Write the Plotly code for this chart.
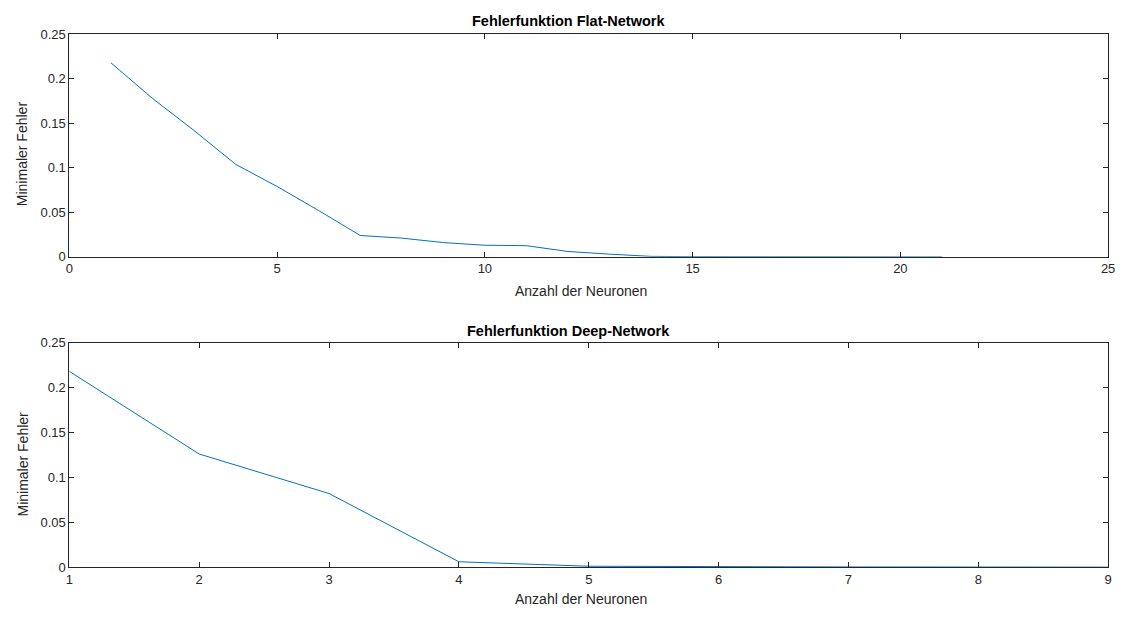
import plotly.graph_objects as go

flat_x = list(range(1, 22))
flat_y = [0.218, 0.178, 0.142, 0.104, 0.079, 0.052, 0.024, 0.021, 0.016, 0.013, 0.0125,
          0.006, 0.003, 0.0005, 0.0002, 0.0001, 0.0001, 0.0001, 0.0, 0.0, 0.0]
deep_x = list(range(1, 10))
deep_y = [0.218, 0.126, 0.082, 0.006, 0.001, 0.0003, 0.0002, 0.0001, 0.0]

W, H = 1128, 621
color = "#0072BD"
font = "Liberation Sans, Arial, sans-serif"

fig = go.Figure()
fig.add_trace(go.Scatter(x=flat_x, y=flat_y, mode="lines", line=dict(color=color, width=1),
                         xaxis="x", yaxis="y", showlegend=False))
fig.add_trace(go.Scatter(x=deep_x, y=deep_y, mode="lines", line=dict(color=color, width=1),
                         xaxis="x2", yaxis="y2", showlegend=False))

xd = [66 / W, 1115 / W]
top = [1 - 256 / H, 1 - 28 / H]
bot = [1 - 574 / H, 1 - 344 / H]

ax_common = dict(showgrid=False, zeroline=False, showline=True, linecolor="#262626", linewidth=1,
                 mirror="ticks", ticks="inside", ticklen=5, tickcolor="#262626",
                 tickfont=dict(family=font, size=13, color="#262626"))

fig.update_layout(
    autosize=True, margin=dict(l=0, r=0, t=0, b=0),
    plot_bgcolor="white", paper_bgcolor="white",
    xaxis=dict(domain=xd, anchor="y", range=[0, 25], tickvals=[0, 5, 10, 15, 20, 25], **ax_common),
    yaxis=dict(domain=top, anchor="x", range=[0, 0.25], tickvals=[0, 0.05, 0.1, 0.15, 0.2, 0.25],
               ticktext=["0", "0.05", "0.1", "0.15", "0.2", "0.25"], **ax_common),
    xaxis2=dict(domain=xd, anchor="y2", range=[1, 9], tickvals=list(range(1, 10)), **ax_common),
    yaxis2=dict(domain=bot, anchor="x2", range=[0, 0.25], tickvals=[0, 0.05, 0.1, 0.15, 0.2, 0.25],
                ticktext=["0", "0.05", "0.1", "0.15", "0.2", "0.25"], **ax_common),
)

def ann(text, x, y, size=14, bold=False, angle=0):
    fig.add_annotation(text=f"<b>{text}</b>" if bold else text, x=x / W, y=1 - y / H,
                       xref="paper", yref="paper", showarrow=False, textangle=angle,
                       font=dict(family=font, size=size, color="black" if bold else "#262626"),
                       xanchor="center", yanchor="middle")

ann("Fehlerfunktion Flat-Network", 570, 14, 14.5, True)
ann("Fehlerfunktion Deep-Network", 570, 332, 14.5, True)
ann("Anzahl der Neuronen", 583, 291, 14)
ann("Anzahl der Neuronen", 583, 607, 14)
ann("Minimaler Fehler", 19, 150, 14, angle=-90)
ann("Minimaler Fehler", 19, 468, 14, angle=-90)

fig.write_html("out.html", default_width="100vw", default_height="100vh",
               config={"displayModeBar": False, "responsive": True},
               post_script="document.body.style.margin='0';document.body.style.overflow='hidden';"
                           "Plotly.Plots.resize(document.getElementById('{plot_id}'));")
